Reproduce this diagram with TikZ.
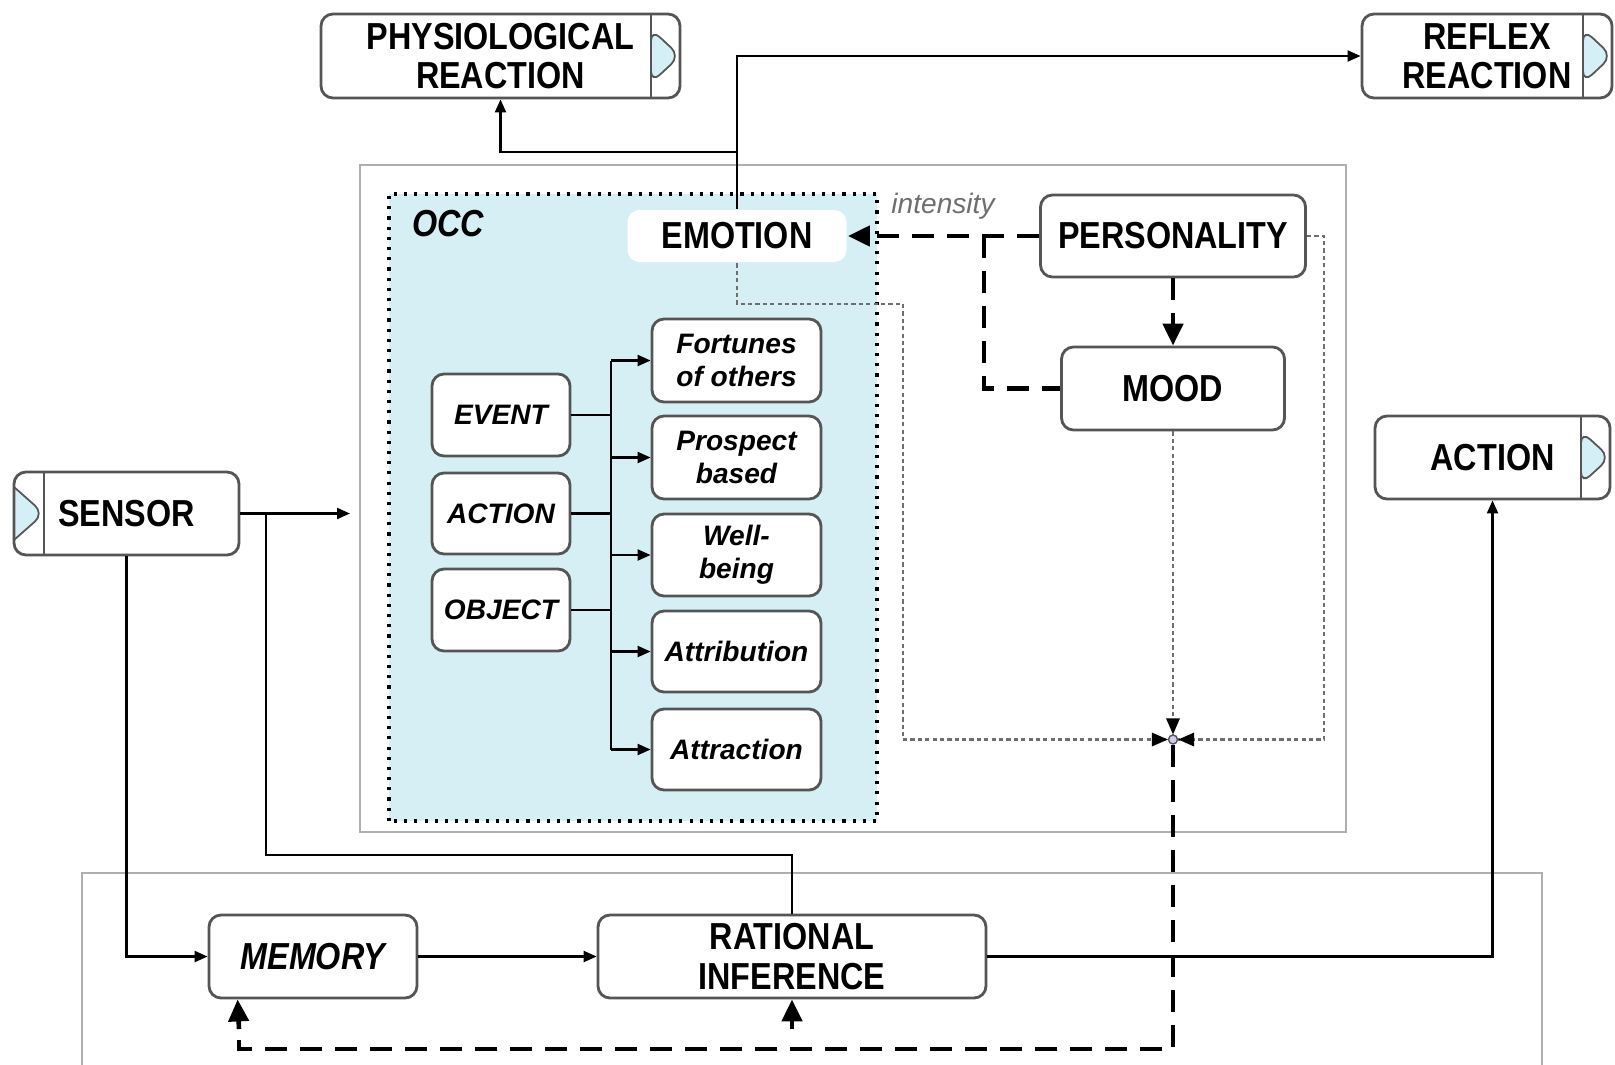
\documentclass[tikz,border=0pt]{standalone}
\usepackage{fontspec}
\setmainfont{Liberation Sans}
\newfontfamily\lblfont[FakeStretch=0.86]{Liberation Sans}
\usetikzlibrary{arrows.meta,positioning,calc}

\definecolor{occblue}{RGB}{214,239,244}
\definecolor{tabblue}{RGB}{212,240,246}
\definecolor{framegray}{RGB}{175,175,175}
\definecolor{boxgray}{RGB}{85,85,85}
\definecolor{dotgray}{RGB}{110,110,110}
\definecolor{hubfill}{RGB}{205,205,235}

\tikzset{
  box/.style={draw=boxgray, line width=0.8pt, rounded corners=0.12cm, fill=white, align=center, inner sep=0pt},
  lbl/.style={font=\lblfont\bfseries\fontsize{10.7}{11.2}\selectfont},
  occlbl/.style={font=\bfseries\itshape\fontsize{8}{9.4}\selectfont},
  tabright/.style={path picture={
      \draw[boxgray, line width=0.8pt] ([xshift=-0.29cm]path picture bounding box.north east) -- ([xshift=-0.29cm]path picture bounding box.south east);
      \draw[boxgray, line width=0.5pt, fill=tabblue] ([xshift=-0.29cm,yshift=-0.15cm]path picture bounding box.north east) -- (path picture bounding box.east) -- ([xshift=-0.29cm,yshift=0.15cm]path picture bounding box.south east) -- cycle;}},
  tableft/.style={path picture={
      \draw[boxgray, line width=0.8pt] ([xshift=0.30cm]path picture bounding box.north west) -- ([xshift=0.30cm]path picture bounding box.south west);
      \draw[boxgray, line width=0.5pt, fill=tabblue] ([yshift=-0.15cm]path picture bounding box.north west) -- ([xshift=0.30cm]path picture bounding box.west) -- ([yshift=0.15cm]path picture bounding box.south west);}},
  conn/.style={line width=0.6pt, draw=black},
  arr/.style={-{Triangle[length=0.13cm,width=0.11cm]}},
  bigarr/.style={-{Triangle[length=0.22cm,width=0.2cm]}},
  dashline/.style={line width=1.3pt, dash pattern=on 0.22cm off 0.13cm},
  dotline/.style={draw=dotgray, line width=0.7pt, dash pattern=on 1.2pt off 0.9pt},
}

\begin{document}
\begin{tikzpicture}
\useasboundingbox (0,0) rectangle (16.15,10.64);

\draw[framegray, line width=0.6pt] (3.60,2.32) rectangle (13.46,8.99);
\draw[framegray, line width=0.6pt] (0.82,-0.1) |- (15.42,1.91) -- (15.42,-0.1);
\draw[dotted, line width=0.9pt, fill=occblue] (3.89,2.43) rectangle (8.77,8.70);

\node[box, lbl, tabright, minimum width=3.59cm, minimum height=0.84cm] (physio) at (5.005,10.08) {PHYSIOLOGICAL\\REACTION};
\node[box, lbl, tabright, minimum width=2.50cm, minimum height=0.84cm] (reflex) at (14.87,10.08) {REFLEX\\REACTION};
\node[box, lbl, tabright, minimum width=2.35cm, minimum height=0.83cm] (action) at (14.925,6.065) {ACTION};
\node[box, lbl, tableft, minimum width=2.25cm, minimum height=0.83cm] (sensor) at (1.265,5.505) {SENSOR};

\node[lbl, font=\lblfont\bfseries\itshape\fontsize{10.7}{11.2}\selectfont] (occ) at (4.48,8.40) {OCC};
\node[box, lbl, draw=none, minimum width=2.19cm, minimum height=0.52cm] (emotion) at (7.37,8.28) {EMOTION};
\node[font=\itshape\fontsize{8}{9}\selectfont, text=dotgray] (intensity) at (9.43,8.58) {intensity};
\node[box, lbl, minimum width=2.65cm, minimum height=0.82cm] (personality) at (11.73,8.28) {PERSONALITY};
\node[box, lbl, minimum width=2.23cm, minimum height=0.83cm] (mood) at (11.73,6.755) {MOOD};

\node[box, occlbl, minimum width=1.38cm, minimum height=0.82cm] (event) at (5.01,6.49) {EVENT};
\node[box, occlbl, minimum width=1.38cm, minimum height=0.81cm] (actionocc) at (5.01,5.505) {ACTION};
\node[box, occlbl, minimum width=1.38cm, minimum height=0.82cm] (object) at (5.01,4.54) {OBJECT};

\node[box, occlbl, minimum width=1.69cm, minimum height=0.83cm] (fortunes) at (7.365,7.035) {Fortunes\\of others};
\node[box, occlbl, minimum width=1.69cm, minimum height=0.83cm] (prospect) at (7.365,6.065) {Prospect\\based};
\node[box, occlbl, minimum width=1.69cm, minimum height=0.82cm] (wellbeing) at (7.365,5.09) {Well-\\being};
\node[box, occlbl, minimum width=1.69cm, minimum height=0.81cm] (attribution) at (7.365,4.125) {Attribution};
\node[box, occlbl, minimum width=1.69cm, minimum height=0.81cm] (attraction) at (7.365,3.145) {Attraction};

\node[box, lbl, font=\lblfont\bfseries\itshape\fontsize{10.7}{11.2}\selectfont, minimum width=2.08cm, minimum height=0.83cm] (memory) at (3.13,1.075) {MEMORY};
\node[box, lbl, minimum width=3.88cm, minimum height=0.83cm] (rational) at (7.92,1.075) {RATIONAL\\INFERENCE};

\node[circle, draw=boxgray, fill=hubfill, line width=0.4pt, inner sep=0pt, minimum size=0.09cm] (hub) at (11.73,3.245) {};

\coordinate (bus) at (6.11,5);
\coordinate (sensorout) at (3.50,5.505);
\coordinate (sensorsplit) at (2.66,5.505);
\coordinate (emosplit) at (7.37,9.12);
\coordinate (moodsplit) at (9.84,8.28);
\coordinate (dashbase) at (2.39,0.15);
\coordinate (memin) at ($(memory.south west)+(0.30,0)$);

\draw[conn] (fortunes.west -| bus) -- (attraction.west -| bus);
\foreach \n in {fortunes,prospect,wellbeing,attribution,attraction}
  \draw[conn,arr] (\n.west -| bus) -- (\n.west);
\foreach \n in {event,actionocc,object}
  \draw[conn] (\n.east) -- (\n.east -| bus);

\draw[conn,arr] (sensor.east) -- (sensorout);
\draw[conn] (sensorsplit) |- (7.92,2.09) -- (rational.north);
\draw[conn,arr] (sensor.south) |- (memory.west);
\draw[conn,arr] (memory) -- (rational);
\draw[conn,arr] (rational.east) -| (action.south);
\draw[conn,arr] (emotion.north) |- (reflex.west);
\draw[conn,arr] (emosplit) -| (physio.south);

\draw[dotline] (emotion.south) |- (9.03,7.60) |- (hub.west);
\draw[dotline] (personality.east) -| (13.24,3.245) -- (hub.east);
\draw[dotline] (mood.south) -- (hub.north);
\fill (hub.west) -- ++(-0.16,0.07) -- ++(0,-0.14) -- cycle;
\fill (hub.east) -- ++(0.16,0.07) -- ++(0,-0.14) -- cycle;
\fill (hub.north) -- ++(0.07,0.16) -- ++(-0.14,0) -- cycle;

\draw[dashline,bigarr] (personality.west) -- (emotion.east);
\draw[dashline] (moodsplit) |- (mood.west);
\draw[dashline,bigarr] (personality.south) -- (mood.north);
\draw[dashline] (hub.south) |- (dashbase) -- ($(dashbase)+(0,0.2)$);
\draw[line width=1.3pt,bigarr] ($(dashbase)+(0,0.2)$) -- (memin);
\draw[line width=1.3pt,bigarr] ($(rational.south |- dashbase)+(0,0.2)$) -- (rational.south);
\end{tikzpicture}
\end{document}
